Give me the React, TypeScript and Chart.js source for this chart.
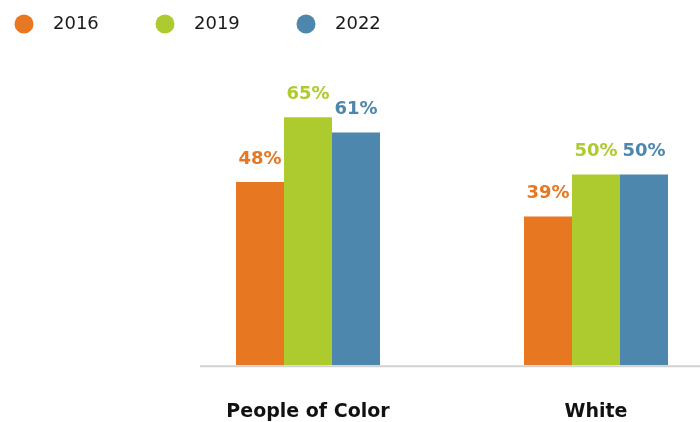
import React, { useEffect, useRef } from "react";
import { Chart, registerables } from "chart.js";

Chart.register(...registerables);

const categories = ["People of Color", "White"];
const seriesLabels = ["2016", "2019", "2022"];
const values2016 = [48, 39];
const values2019 = [65, 50];
const values2022 = [61, 50];
const seriesColors = ["#E87722", "#ADCB2F", "#4E87AD"];
const yMax = 80;

const legendPlugin = {
  id: "customLegend",
  afterDraw(chart: any) {
    const ctx = chart.ctx;
    ctx.save();
    chart.data.datasets.forEach((ds: any, i: number) => {
      const cx = 24 + i * 141;
      const cy = 24;
      ctx.beginPath();
      ctx.fillStyle = ds.backgroundColor;
      ctx.arc(cx, cy, 9.5, 0, Math.PI * 2);
      ctx.fill();
      ctx.fillStyle = "#1a1a1a";
      ctx.font = "18px 'DejaVu Sans'";
      ctx.textAlign = "left";
      ctx.textBaseline = "middle";
      ctx.fillText(ds.label, cx + 29, cy);
    });
    ctx.restore();
  },
};

const axisLinePlugin = {
  id: "axisLine",
  beforeDatasetsDraw(chart: any) {
    const { ctx, chartArea } = chart;
    ctx.save();
    ctx.strokeStyle = "#d2d2d2";
    ctx.lineWidth = 2;
    ctx.beginPath();
    ctx.moveTo(chartArea.left + 36, chartArea.bottom + 1);
    ctx.lineTo(chartArea.right, chartArea.bottom + 1);
    ctx.stroke();
    ctx.restore();
  },
};

const valueLabelPlugin = {
  id: "valueLabels",
  afterDatasetsDraw(chart: any) {
    const ctx = chart.ctx;
    ctx.save();
    ctx.font = "bold 18px 'DejaVu Sans'";
    ctx.textAlign = "center";
    ctx.textBaseline = "alphabetic";
    chart.data.datasets.forEach((ds: any, i: number) => {
      const meta = chart.getDatasetMeta(i);
      meta.data.forEach((bar: any, j: number) => {
        ctx.fillStyle = ds.backgroundColor;
        ctx.fillText(ds.data[j] + "%", bar.x, bar.y - 18);
      });
    });
    ctx.restore();
  },
};

export default function App() {
  const ref = useRef<HTMLCanvasElement>(null);
  useEffect(() => {
    if (!ref.current) return;
    const chart = new Chart(ref.current, {
      type: "bar",
      data: {
        labels: categories,
        datasets: [
          { label: seriesLabels[0], data: values2016, backgroundColor: seriesColors[0] },
          { label: seriesLabels[1], data: values2019, backgroundColor: seriesColors[1] },
          { label: seriesLabels[2], data: values2022, backgroundColor: seriesColors[2] },
        ],
      },
      options: {
        responsive: false,
        animation: false,
        layout: { padding: { left: 164, right: 0, top: 60, bottom: 0 } },
        datasets: { bar: { categoryPercentage: 0.5, barPercentage: 1, borderWidth: 0 } },
        plugins: { legend: { display: false }, tooltip: { enabled: false } },
        scales: {
          x: {
            grid: { display: false, drawTicks: false },
            border: { display: false },
            ticks: {
              color: "#111111",
              padding: 35,
              font: { family: "'DejaVu Sans'", size: 19, weight: "bold" },
            },
          },
          y: { display: false, min: 0, max: yMax },
        },
      },
      plugins: [legendPlugin, axisLinePlugin, valueLabelPlugin],
    });
    return () => chart.destroy();
  }, []);
  return (
    <div
      style={{
        position: "fixed",
        left: 0,
        top: 0,
        width: 700,
        height: 422,
        overflow: "hidden",
        background: "#ffffff",
      }}
    >
      <canvas ref={ref} width={740} height={458} style={{ display: "block", width: 740, height: 458 }} />
    </div>
  );
}
